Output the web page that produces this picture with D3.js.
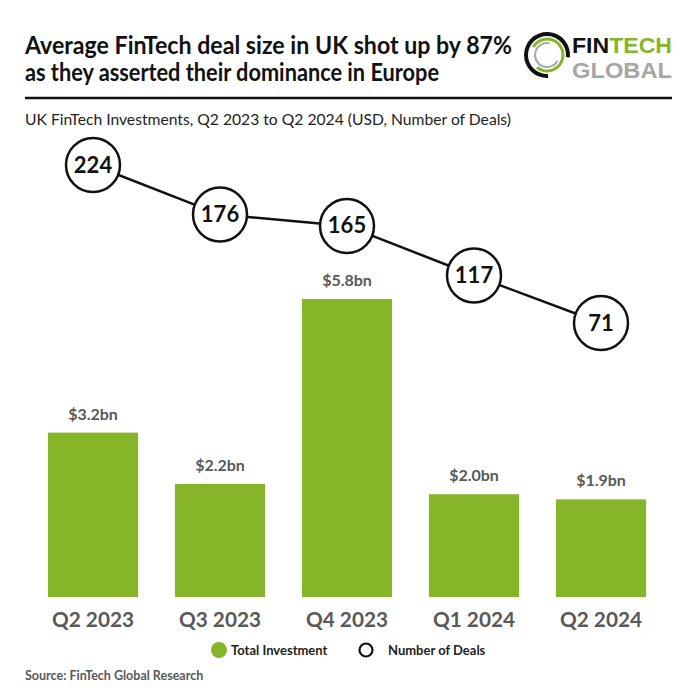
<!DOCTYPE html>
<html><head><meta charset="utf-8">
<script src="https://cdn.jsdelivr.net/npm/d3@7"></script>
<style>body{margin:0;background:#fff}svg{display:block}</style>
</head><body>
<script>
const quarters = ["Q2 2023","Q3 2023","Q4 2023","Q1 2024","Q2 2024"];
const investment = [3.2, 2.2, 5.8, 2.0, 1.9];
const investmentLabels = ["$3.2bn","$2.2bn","$5.8bn","$2.0bn","$1.9bn"];
const deals = [224, 176, 165, 117, 71];
const titleLines = ["Average FinTech deal size in UK shot up by 87%","as they asserted their dominance in Europe"];
const subtitle = "UK FinTech Investments, Q2 2023 to Q2 2024 (USD, Number of Deals)";
const legendItems = ["Total Investment","Number of Deals"];
const source = "Source: FinTech Global Research";

const W = 696, H = 696;
const green = "#86b52a", gray = "#595959";
const font = "Lato, 'Open Sans', sans-serif";
const svg = d3.select("body").append("svg").attr("width", W).attr("height", H);

function fit(sel, w){
  sel.each(function(){
    const l = this.getComputedTextLength();
    if (l > w) d3.select(this).attr("textLength", w).attr("lengthAdjust","spacingAndGlyphs");
  });
}

// Title
svg.selectAll("text.title").data(titleLines).join("text")
  .attr("x", 25).attr("y", (d,i)=> 54 + i*27)
  .attr("font-family", font).attr("font-weight", 700).attr("font-size", 24)
  .attr("fill", "#111").text(d=>d)
  .each(function(d,i){ fit(d3.select(this), i===0 ? 487 : 414); });

// Rule
svg.append("line").attr("x1",25).attr("x2",672).attr("y1",98).attr("y2",98)
  .attr("stroke","#111").attr("stroke-width",2.5);

// Subtitle
svg.append("text").attr("x",25).attr("y",125)
  .attr("font-family", font).attr("font-size",16).attr("fill","#222")
  .text(subtitle).call(fit, 486);

// Logo
const logo = svg.append("g").attr("transform","translate(547,55)");
const arc = d3.arc();
logo.append("path").attr("d", arc({innerRadius:19, outerRadius:23, startAngle: 0.15*Math.PI, endAngle: 1.7*Math.PI})).attr("fill","#111")
  .attr("transform","rotate(150)");
logo.append("path").attr("d", arc({innerRadius:14.5, outerRadius:17.5, startAngle:0, endAngle:1.55*Math.PI})).attr("fill", green)
  .attr("transform","rotate(-60)");
logo.append("path").attr("d", arc({innerRadius:11, outerRadius:13, startAngle:0, endAngle:1.4*Math.PI})).attr("fill","#a8a8a8")
  .attr("transform","rotate(120)");
const logoFont = "'Liberation Sans', Arial, sans-serif";
const lt = svg.append("text").attr("x",572).attr("y",53)
  .attr("font-family",logoFont).attr("font-weight",700).attr("font-size",22);
lt.append("tspan").attr("fill","#111").text("FIN");
lt.append("tspan").attr("fill",green).text("TECH");
lt.attr("textLength",100).attr("lengthAdjust","spacingAndGlyphs");
svg.append("text").attr("x",572).attr("y",78)
  .attr("font-family",logoFont).attr("font-weight",700).attr("font-size",22)
  .attr("fill","#a6a6a6").text("GLOBAL")
  .attr("textLength",100).attr("lengthAdjust","spacingAndGlyphs");

// Scales
const x = d3.scaleBand().domain(quarters).range([29.5, 664.5]).paddingInner(0.29).paddingOuter(0.145);
const baseY = 597;
const y = d3.scaleLinear().domain([0, 5.8]).range([baseY, 299]);
const yD = d3.scaleLinear().domain([71, 224]).range([323, 165]);

// Bars
svg.selectAll("rect.bar").data(investment).join("rect")
  .attr("x",(d,i)=>x(quarters[i])).attr("width", x.bandwidth())
  .attr("y", d=>y(d)).attr("height", d=>baseY - y(d)).attr("fill", green);

svg.selectAll("text.val").data(investment).join("text")
  .attr("x",(d,i)=>x(quarters[i]) + x.bandwidth()/2).attr("y", d=>y(d)-13)
  .attr("text-anchor","middle").attr("font-family",font).attr("font-weight",700)
  .attr("font-size",16).attr("fill",gray).text((d,i)=>investmentLabels[i]);

// X axis labels
const xAxis = d3.axisBottom(x).tickSize(0).tickPadding(0);
const ax = svg.append("g").attr("transform",`translate(0,${baseY})`).call(xAxis);
ax.select(".domain").remove();
ax.selectAll("text").attr("y", 30).attr("dy", 0)
  .attr("font-family",font).attr("font-weight",700).attr("font-size",21).attr("fill",gray)
  .each(function(){ fit(d3.select(this), 82); });

// Line
const cx = (i)=> x(quarters[i]) + x.bandwidth()/2;
svg.append("path").datum(deals)
  .attr("d", d3.line().x((d,i)=>cx(i)).y(d=>yD(d)))
  .attr("fill","none").attr("stroke","#111").attr("stroke-width",2.5);
svg.selectAll("circle.deal").data(deals).join("circle")
  .attr("cx",(d,i)=>cx(i)).attr("cy",d=>yD(d)).attr("r",27)
  .attr("fill","#fff").attr("stroke","#111").attr("stroke-width",2.5);
svg.selectAll("text.deal").data(deals).join("text")
  .attr("x",(d,i)=>cx(i)).attr("y",d=>yD(d)+7.5)
  .attr("text-anchor","middle").attr("font-family",font).attr("font-weight",700)
  .attr("font-size",22).attr("fill","#111").text(d=>d);

// Legend
svg.append("circle").attr("cx",219).attr("cy",650).attr("r",8).attr("fill",green);
svg.append("text").attr("x",231).attr("y",655).attr("font-family",font).attr("font-weight",700)
  .attr("font-size",13).attr("fill","#222").text(legendItems[0]).call(fit, 103);
svg.append("circle").attr("cx",366).attr("cy",650).attr("r",6.5).attr("fill","#fff")
  .attr("stroke","#111").attr("stroke-width",2.2);
svg.append("text").attr("x",388).attr("y",655).attr("font-family",font).attr("font-weight",700)
  .attr("font-size",13).attr("fill","#222").text(legendItems[1]).call(fit, 102);

// Source
svg.append("text").attr("x",25).attr("y",680).attr("font-family",font).attr("font-weight",700)
  .attr("font-size",12.5).attr("fill",gray).text(source).call(fit, 186);
</script>
</body></html>
